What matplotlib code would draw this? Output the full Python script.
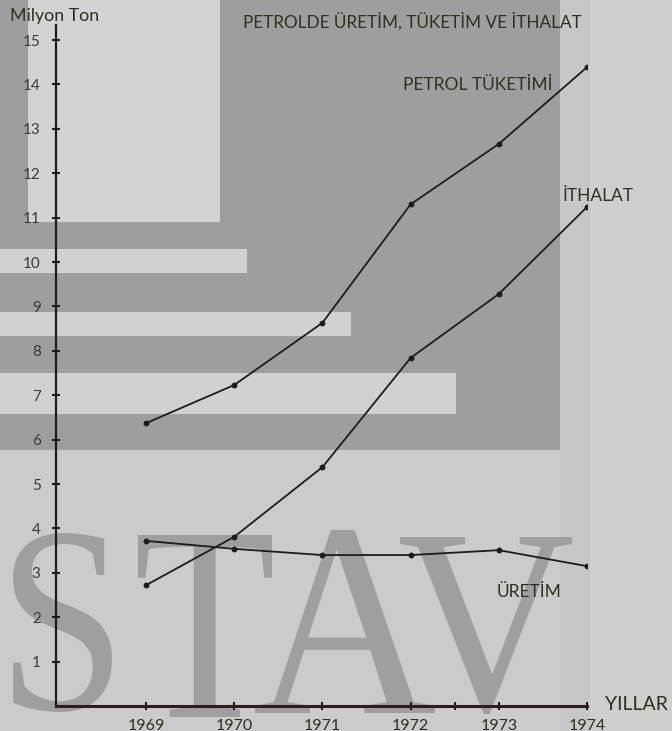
import matplotlib
matplotlib.use("Agg")
import matplotlib.pyplot as plt
from matplotlib.patches import Rectangle, PathPatch
from matplotlib.textpath import TextPath
from matplotlib.font_manager import FontProperties
from matplotlib.transforms import Affine2D

years = [1969, 1970, 1971, 1972, 1973, 1974]
tuketim = [6.37, 7.23, 8.63, 11.30, 12.66, 14.39]
ithalat = [2.72, 3.81, 5.38, 7.84, 9.28, 11.24]
uretim = [3.72, 3.54, 3.40, 3.40, 3.51, 3.15]
y_ticks = list(range(1, 16))
y_labels = ["1", "2", "3", "4", "5", "6", "7", "8", "9", "10", "11", "12", "13", "14", "15"]
x_labels = ["1969", "1970", "1971", "1972", "1973", "1974"]

W, H = 672, 731
ink = "#1c1c18"
txt = "#2e2e22"
font = ["Lato", "DejaVu Sans"]

fig = plt.figure(figsize=(W / 100, H / 100), dpi=100)
fig.patch.set_facecolor("#cfcfcd")

# background in pixel coordinates
bg = fig.add_axes([0, 0, 1, 1])
bg.set_xlim(0, W)
bg.set_ylim(H, 0)
bg.axis("off")

def box(x0, y0, x1, y1, c):
    bg.add_patch(Rectangle((x0, y0), x1 - x0, y1 - y0, color=c, lw=0))

box(0, 450, 590, H, "#cbcbc9")
box(560, 0, 590, H, "#c7c7c5")
box(0, 0, 560, 450, "#9e9e9c")
box(28, 0, 220, 222, "#d3d3d1")
box(0, 249, 247, 273, "#d1d1cf")
box(0, 312, 351, 336, "#d1d1cf")
box(0, 373, 456, 414, "#d1d1cf")

# STAV watermark, each glyph fitted into its box
serif = FontProperties(family="Liberation Serif")
letters = [("S", 13, 112, 533, 712), ("T", 138, 272, 535, 717),
           ("A", 255, 435, 530, 713), ("V", 400, 572, 537, 714)]
for ch, x0, x1, y0, y1 in letters:
    p = TextPath((0, 0), ch, size=100, prop=serif)
    e = p.get_extents()
    sx = (x1 - x0) / e.width
    sy = (y1 - y0) / e.height
    tr = Affine2D().translate(-e.x0, -e.y0).scale(sx, -sy).translate(x0, y1)
    bg.add_patch(PathPatch(tr.transform_path(p), color="#959595", alpha=0.8, lw=0, zorder=3))

# main chart
ax = fig.add_axes([56 / W, (H - 706) / H, 531 / W, 681 / H])
ax.patch.set_alpha(0)
ax.set_xlim(1967.98, 1974.0)
ax.set_ylim(0, 15.34)
for s in ["top", "right"]:
    ax.spines[s].set_visible(False)
ax.spines["left"].set_color(ink)
ax.spines["left"].set_linewidth(1.6)
ax.spines["bottom"].set_color("#2a1e1e")
ax.spines["bottom"].set_linewidth(2.2)

ax.plot(years, tuketim, color=ink, lw=1.3, marker="o", ms=3.2, zorder=5)
ax.plot(years, ithalat, color=ink, lw=1.3, marker="o", ms=3.2, zorder=5)
ax.plot(years, uretim, color=ink, lw=1.3, marker="o", ms=3.2, zorder=5)

ax.set_yticks(y_ticks)
ax.set_yticklabels(y_labels, fontsize=11, color="#3a3a30", family=font)
ax.set_xticks(years)
ax.set_xticklabels(x_labels, fontsize=11.5, color=txt, family=font)
ax.set_xticks([1972.5], minor=True)
ax.tick_params(axis="y", direction="inout", length=6, width=1.5, color=ink, pad=8)
ax.tick_params(axis="x", which="both", direction="inout", length=6, width=1.5, color=ink, pad=6)

ax.text(1973.61, 13.99, "PETROL TÜKETİMİ", fontsize=12.5, color=txt, family=font,
        ha="right", va="center")
ax.text(1973.72, 11.49, "İTHALAT", fontsize=12.5, color=txt, family=font,
        ha="left", va="center")
ax.text(1972.97, 2.57, "ÜRETİM", fontsize=12.5, color=txt, family=font,
        ha="left", va="center")

fig.text(10 / W, 1 - 16 / H, "Milyon Ton", fontsize=12.8, color=txt, family=font,
         ha="left", va="center")
fig.text(243 / W, 1 - 21 / H, "PETROLDE ÜRETİM, TÜKETİM VE İTHALAT", fontsize=12.3,
         color=txt, family=font, ha="left", va="center")
fig.text(605 / W, 1 - 705 / H, "YILLAR", fontsize=14, color=txt, family=font,
         ha="left", va="center")

fig.savefig("out.png", dpi=100, facecolor=fig.get_facecolor())
